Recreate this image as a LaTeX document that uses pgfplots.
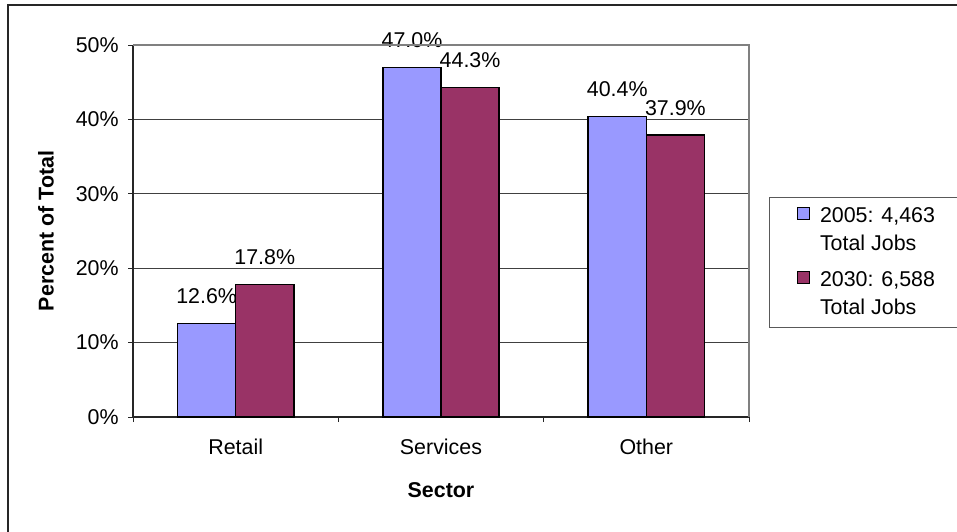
\documentclass[border=0pt]{standalone}
\usepackage{fontspec}
\setmainfont{Liberation Sans}
\usepackage{pgfplots}
\pgfplotsset{compat=1.18}
\definecolor{bblue}{HTML}{9999FF}
\definecolor{bred}{HTML}{993366}
\begin{document}
\fontsize{10.7}{14}\selectfont
\begin{tikzpicture}
\path[use as bounding box] (0,0) rectangle (478.5pt,265.5pt);
\draw[line width=1pt, black!85] (3.75pt,-2pt) -- (3.75pt,263pt) -- (482pt,263pt);
\begin{axis}[
  at={(66.5pt,57pt)}, anchor=south west,
  width=308pt, height=186pt, scale only axis,
  ybar, bar width=0.283,
  xmin=-0.5, xmax=2.5, ymin=0, ymax=50,
  xtick={-0.5,0.5,1.5,2.5},
  xticklabels={Retail,Services,Other},
  x tick label as interval,
  ytick={0,10,20,30,40,50},
  yticklabel={\pgfmathprintnumber[assume math mode=true]{\tick}\%},
  axis x line*=bottom, axis y line*=left,
  axis line style={black!85, line width=0.6pt},
  tick align=outside, major tick length=2.5pt,
  tick style={black!85, line width=0.5pt},
  ymajorgrids, grid style={black!75, line width=0.5pt},
  yticklabel style={anchor=east, inner sep=0pt, xshift=-4.5pt},
  xticklabel style={anchor=base, inner sep=0pt, yshift=-16pt},
  every axis y label/.style={at={(axis description cs:0,0.5)}, xshift=-43.5pt, rotate=90, anchor=center, font=\bfseries},
  every axis x label/.style={at={(axis description cs:0.5,0)}, yshift=-36.5pt, anchor=center, font=\bfseries},
  ylabel={Percent of Total},
  xlabel={Sector},
  clip=false,
  nodes near coords={\pgfmathprintnumber[fixed,fixed zerofill,precision=1,assume math mode=true]{\pgfplotspointmeta}\%},
  every node near coord/.append style={anchor=base, inner sep=0pt, yshift=10pt, text=black},
  legend image code/.code={\draw[#1, yshift=8.5pt] (0pt,-3pt) rectangle (6pt,3pt);},
  legend style={at={(axis description cs:1.0325,0.5914)}, anchor=north west,
    draw=black!65, line width=0.5pt, fill=white, inner xsep=13.5pt, inner ysep=3pt,
    row sep=5pt, cells={anchor=west, align=left},
    /tikz/every odd column/.append style={column sep=3pt}},
  after end axis/.code={\draw[black!50, line width=0.6pt] (rel axis cs:0,1) -- (rel axis cs:1,1) -- (rel axis cs:1,0);},
]
\addplot[fill=bblue, draw=black, line width=0.75pt, bar shift=-0.1415] coordinates {(0,12.6) (1,47.0) (2,40.4)};
\addlegendentry{2005: 4,463\\Total Jobs}
\addplot[fill=bred, draw=black, line width=0.75pt, bar shift=0.1415] coordinates {(0,17.8) (1,44.3) (2,37.9)};
\addlegendentry{2030: 6,588\\Total Jobs}
\end{axis}
\end{tikzpicture}
\end{document}
